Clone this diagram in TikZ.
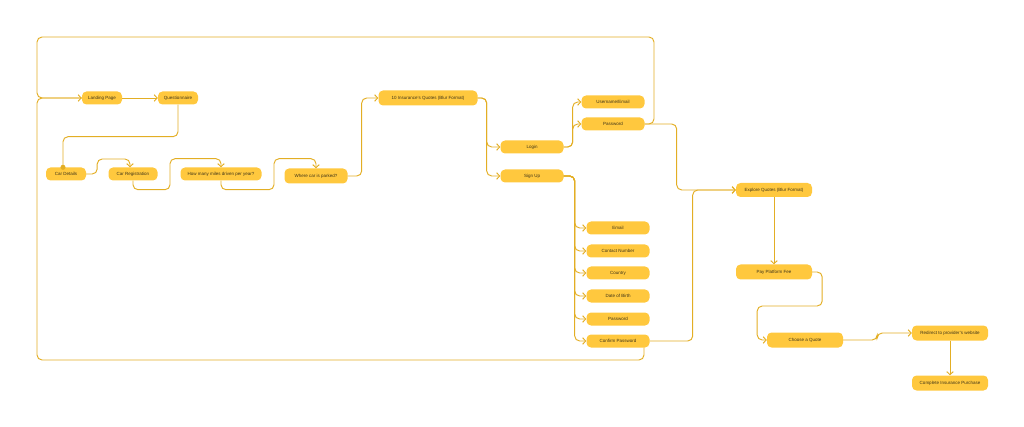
\documentclass[tikz,border=0pt]{standalone}
\usepackage{fontspec}
\setmainfont{Liberation Sans}
\usetikzlibrary{arrows.meta}
\definecolor{stepfill}{HTML}{FFC83E}
\definecolor{stepline}{HTML}{E3AE24}
\definecolor{steptext}{HTML}{3E3418}

\begin{document}
\begin{tikzpicture}[x=1pt, y=-1pt, font=\fontsize{4.5}{5}\selectfont,
  screen/.style={fill=stepfill, rounded corners=4.5pt, minimum height=13pt, inner sep=0pt, text=steptext},
  wire/.style={draw=stepline, line width=0.95pt, rounded corners=5pt},
  link/.style={wire, -{Straight Barb[length=3pt,width=6.5pt]}}]
\useasboundingbox (0,0) rectangle (1024,427);

% questionnaire
\node[screen, minimum width=40pt] (land) at (102,98) {Landing Page};
\node[screen, minimum width=40pt] (quest) at (178,98) {Questionnaire};
\node[screen, minimum width=40pt] (cardet) at (66,174) {Car Details};
\node[screen, minimum width=49pt] (carreg) at (133,174) {Car Registration};
\node[screen, minimum width=81pt] (miles) at (221,174) {How many miles driven per year?};
\node[screen, minimum width=63pt, minimum height=15pt] (parked) at (316,176) {Where car is parked?};
\node[screen, minimum width=99pt, minimum height=15pt] (quotes) at (428,98) {10 Insurance's Quotes (Blur Format)};

% account
\node[screen, minimum width=63pt] (login) at (532,147) {Login};
\node[screen, minimum width=63pt] (signup) at (532,176) {Sign Up};
\node[screen, minimum width=63pt] (user) at (613,102) {Username/Email};
\node[screen, minimum width=63pt] (pass) at (613,124) {Password};
\foreach \name/\txt/\y in {email/Email/228, phone/Contact Number/251, country/Country/273,
    birth/Date of Birth/296, newpass/Password/319, confirm/Confirm Password/341}
  \node[screen, minimum width=63pt] (\name) at (618,\y) {\txt};

% purchase
\node[screen, minimum width=76pt, minimum height=14pt] (explore) at (774,190) {Explore Quotes (Blur Format)};
\node[screen, minimum width=76pt, minimum height=15pt] (pay) at (774,272) {Pay Platform Fee};
\node[screen, minimum width=76pt, minimum height=15pt] (choose) at (805,340) {Choose a Quote};
\node[screen, minimum width=76pt, minimum height=15pt] (redirect) at (950,333) {Redirect to provider's website};
\node[screen, minimum width=76pt, minimum height=15pt] (complete) at (950,383) {Complete Insurance Purchase};

\coordinate (topR) at (654,37);
\coordinate (leftJ) at (37,98);
\coordinate (botL) at (37,360);

\draw[link] (land) -- (quest);
\draw[wire, -{Circle[length=5pt]}, shorten >=-2.5pt] (quest.south) -- ++(0,32) -| ([xshift=-3pt]cardet.north);
\draw[link] (cardet.east) -| ++(11,-15) -| ([xshift=-3pt]carreg.north);
\draw[link] (carreg.south) -- ++(0,9) -| ++(37,-31) -| (miles.north);
\draw[link] (miles.south) -- ++(0,9) -| ++(53,-31) -| (parked.north);
\draw[link] (parked.east) -- ++(14,0) |- (quotes.west);
\draw[link] (quotes.east) -- ++(9,0) |- (login.west);
\draw[link] (quotes.east) -- ++(9,0) |- (signup.west);
\draw[link] (login.east) -- ++(9,0) |- (user.west);
\draw[link] (login.east) -- ++(9,0) |- (pass.west);
\foreach \name in {email, phone, country, birth, newpass, confirm}
  \draw[link] (signup.east) -- ++(11,0) |- (\name.west);

% loops back to the landing page
\draw[link] (pass.east) -| (topR) -| (leftJ) -- (land.west);
\draw[wire] ([xshift=26pt]confirm.south) |- (botL) |- (land.west);

\draw[link] (pass.east) -- ++(32,0) |- (explore.west);
\draw[link] (confirm.east) -- ++(43,0) |- (explore.west);
\draw[link] (explore) -- (pay);
\draw[link] (pay.east) -| ++(10,34) -| ++(-65,34) -- (choose.west);
\draw[link] (choose.east) -- ++(34,0) |- (redirect.west);
\draw[link] (redirect) -- (complete);
\end{tikzpicture}
\end{document}
